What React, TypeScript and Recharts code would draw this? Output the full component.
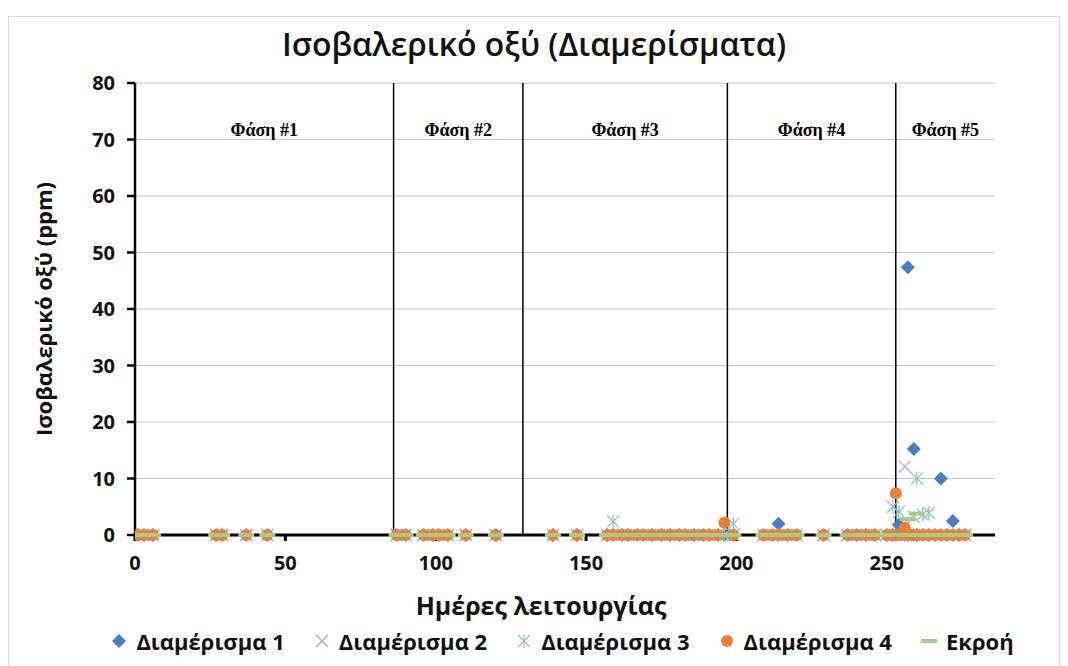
import React from "react";
import {
  ScatterChart,
  Scatter,
  XAxis,
  YAxis,
  CartesianGrid,
  Legend,
  ReferenceLine,
  ReferenceArea,
} from "recharts";

// sampling days of operation
const days = [
  1, 3, 6, 27, 29, 37, 44, 87, 90, 96, 99, 101, 104, 110, 120, 139, 147, 157,
  159, 162, 164, 167, 169, 172, 175, 178, 181, 183, 186, 189, 191, 194, 196,
  199, 209, 212, 214, 217, 220, 229, 237, 240, 243, 246, 250, 252, 253, 254,
  256, 257, 259, 260, 262, 264, 266, 268, 270, 272, 274, 276,
];

// isovaleric acid (ppm) per compartment, one value per day above
const diam1 = [
  0, 0, 0, 0, 0, 0, 0, 0, 0, 0, 0, 0, 0, 0, 0, 0, 0, 0,
  0, 0, 0, 0, 0, 0, 0, 0, 0, 0, 0, 0, 0, 0, 0,
  0, 0, 0, 2.0, 0, 0, 0, 0, 0, 0, 0, 0, 0, 0, 1.8,
  0, 47.4, 15.2, 0, 0, 0, 0, 10.0, 0, 2.5, 0, 0,
];
const diam2 = [
  0, 0, 0, 0, 0, 0, 0, 0, 0, 0, 0, 0, 0, 0, 0, 0, 0, 0,
  0, 0, 0, 0, 0, 0, 0, 0, 0, 0, 0, 0, 0, 0, 0,
  0, 0, 0, 0, 0, 0, 0, 0, 0, 0, 0, 0, 0, 0, 0,
  12.1, 0, 3.2, 0, 0, 0, 0, 0, 0, 0, 0, 0,
];
const diam3 = [
  0, 0, 0, 0, 0, 0, 0, 0, 0, 0, 0, 0, 0, 0, 0, 0, 0, 0,
  2.4, 0, 0, 0, 0, 0, 0, 0, 0, 0, 0, 0, 0, 0, 0,
  2.0, 0, 0, 0, 0, 0, 0, 0, 0, 0, 0, 0, 5.0, 0, 4.1,
  0, 0, 0, 10.0, 3.6, 3.9, 0, 0, 0, 0, 0, 0,
];
const diam4 = [
  0, 0, 0, 0, 0, 0, 0, 0, 0, 0, 0, 0, 0, 0, 0, 0, 0, 0,
  0, 0, 0, 0, 0, 0, 0, 0, 0, 0, 0, 0, 0, 0, 2.2,
  0, 0, 0, 0, 0, 0, 0, 0, 0, 0, 0, 0, 0, 7.4, 0,
  1.3, 0, 0, 0, 0, 0, 0, 0, 0, 0, 0, 0,
];
const ekroi = [
  0, 0, 0, 0, 0, 0, 0, 0, 0, 0, 0, 0, 0, 0, 0, 0, 0, 0,
  0, 0, 0, 0, 0, 0, 0, 0, 0, 0, 0, 0, 0, 0, 0,
  0, 0, 0, 0, 0, 0, 0, 0, 0, 0, 0, 0, 0, 0, 0,
  0, 2.8, 0, 3.8, 0, 0, 0, 0, 0, 0, 0, 0,
];

// phase boundaries (days) and their captions
const phaseBounds = [0, 86, 129, 197, 253, 286];
const phaseNames = ["Φάση #1", "Φάση #2", "Φάση #3", "Φάση #4", "Φάση #5"];

const xTicks = [0, 50, 100, 150, 200, 250];
const yTicks = [0, 10, 20, 30, 40, 50, 60, 70, 80];

const BLUE = "#4A7EC2";
const LILAC = "#A9A9C9";
const AQUA = "#86C3CE";
const ORANGE = "#EA8139";
const GREEN = "#A8CA86";
const FONT = "'Open Sans', sans-serif";

const toPoints = (values: number[]) =>
  days.map((d, i) => ({ x: d, y: values[i] }));

const Diamond = ({ cx, cy }: any) => (
  <polygon
    points={`${cx},${cy - 7} ${cx + 7},${cy} ${cx},${cy + 7} ${cx - 7},${cy}`}
    fill={BLUE}
  />
);

const XMark = ({ cx, cy }: any) => (
  <g stroke={LILAC} strokeWidth={1.2}>
    <line x1={cx - 6} y1={cy - 6} x2={cx + 6} y2={cy + 6} />
    <line x1={cx - 6} y1={cy + 6} x2={cx + 6} y2={cy - 6} />
  </g>
);

const StarMark = ({ cx, cy }: any) => (
  <g stroke={AQUA} strokeWidth={1.2}>
    <line x1={cx} y1={cy - 7} x2={cx} y2={cy + 7} />
    <line x1={cx - 6} y1={cy - 6} x2={cx + 6} y2={cy + 6} />
    <line x1={cx - 6} y1={cy + 6} x2={cx + 6} y2={cy - 6} />
  </g>
);

const Dot = ({ cx, cy }: any) => <circle cx={cx} cy={cy} r={6} fill={ORANGE} />;

const Dash = ({ cx, cy }: any) => (
  <rect x={cx - 8} y={cy - 2} width={16} height={4} fill={GREEN} />
);

const legendItems = [
  { name: "Διαμέρισμα 1", Icon: Diamond },
  { name: "Διαμέρισμα 2", Icon: XMark },
  { name: "Διαμέρισμα 3", Icon: StarMark },
  { name: "Διαμέρισμα 4", Icon: Dot },
  { name: "Εκροή", Icon: Dash },
];

const LegendRow = () => (
  <div
    style={{
      display: "flex",
      justifyContent: "center",
      gap: 28,
      paddingLeft: 56,
      fontFamily: FONT,
      fontWeight: 700,
      fontSize: 22,
      color: "#111",
    }}
  >
    {legendItems.map(({ name, Icon }) => (
      <div key={name} style={{ display: "flex", alignItems: "center", gap: 8 }}>
        <svg width={18} height={18}>
          <Icon cx={9} cy={9} />
        </svg>
        <span>{name}</span>
      </div>
    ))}
  </div>
);

const YLabel = ({ viewBox }: any) => {
  const x = viewBox.x + 34;
  const y = viewBox.y + viewBox.height / 2;
  return (
    <text
      x={x}
      y={y}
      transform={`rotate(-90, ${x}, ${y})`}
      textAnchor="middle"
      dominantBaseline="central"
      fontFamily={FONT}
      fontWeight={700}
      fontSize={22}
      fill="#111"
    >
      Ισοβαλερικό οξύ (ppm)
    </text>
  );
};

const XLabel = ({ viewBox }: any) => (
  <text
    x={viewBox.x + viewBox.width / 2 - 24}
    y={viewBox.y + 80}
    textAnchor="middle"
    fontFamily={FONT}
    fontWeight={700}
    fontSize={25}
    fill="#111"
  >
    Ημέρες λειτουργίας
  </text>
);

export default function App() {
  const tickStyle = { fontFamily: FONT, fontWeight: 700, fontSize: 20, fill: "#111" };
  return (
    <div style={{ paddingTop: 8 }}>
      <div
        style={{
          position: "relative",
          width: 1050,
          height: 660,
          border: "1px solid #d9d9d9",
          background: "#fff",
        }}
      >
        <div
          style={{
            position: "absolute",
            top: 5,
            left: 0,
            width: "100%",
            textAlign: "center",
            fontFamily: FONT,
            fontSize: 32,
            fontWeight: 600,
            color: "#111",
          }}
        >
          Ισοβαλερικό οξύ (Διαμερίσματα)
        </div>
        <ScatterChart
          width={1050}
          height={660}
          margin={{ top: 66, right: 64, bottom: 52, left: 0 }}
        >
          <CartesianGrid vertical={false} stroke="#c8c8c8" />
          <XAxis
            type="number"
            dataKey="x"
            domain={[0, 286]}
            ticks={xTicks}
            allowDataOverflow
            height={90}
            axisLine={{ stroke: "#000", strokeWidth: 3 }}
            tickLine={{ stroke: "#000", strokeWidth: 3 }}
            tickSize={6}
            tickMargin={15}
            tick={tickStyle}
            label={<XLabel />}
          />
          <YAxis
            type="number"
            dataKey="y"
            domain={[0, 80]}
            ticks={yTicks}
            width={126}
            axisLine={{ stroke: "#000", strokeWidth: 2.5 }}
            tickLine={{ stroke: "#000", strokeWidth: 2.5 }}
            tickSize={8}
            tickMargin={12}
            tick={tickStyle}
            label={<YLabel />}
          />
          {phaseNames.map((name, i) => (
            <ReferenceArea
              key={name}
              x1={phaseBounds[i]}
              x2={phaseBounds[i + 1]}
              y1={0}
              y2={80}
              fill="none"
              stroke="none"
              label={{
                value: name,
                position: "insideTop",
                offset: 40,
                style: {
                  fontFamily: "'Liberation Serif', serif",
                  fontWeight: 700,
                  fontSize: 18,
                  fill: "#000",
                },
              }}
            />
          ))}
          {phaseBounds.slice(1, -1).map((d) => (
            <ReferenceLine key={d} x={d} stroke="#000" strokeWidth={1.5} />
          ))}
          <Scatter name="Διαμέρισμα 1" data={toPoints(diam1)} shape={Diamond} isAnimationActive={false} />
          <Scatter name="Διαμέρισμα 2" data={toPoints(diam2)} shape={XMark} isAnimationActive={false} />
          <Scatter name="Διαμέρισμα 3" data={toPoints(diam3)} shape={StarMark} isAnimationActive={false} />
          <Scatter name="Διαμέρισμα 4" data={toPoints(diam4)} shape={Dot} isAnimationActive={false} />
          <Scatter name="Εκροή" data={toPoints(ekroi)} shape={Dash} isAnimationActive={false} />
          <Legend
            layout="horizontal"
            verticalAlign="middle"
            align="center"
            wrapperStyle={{ top: 609, left: 0, width: 1050 }}
            content={<LegendRow />}
          />
        </ScatterChart>
      </div>
    </div>
  );
}
